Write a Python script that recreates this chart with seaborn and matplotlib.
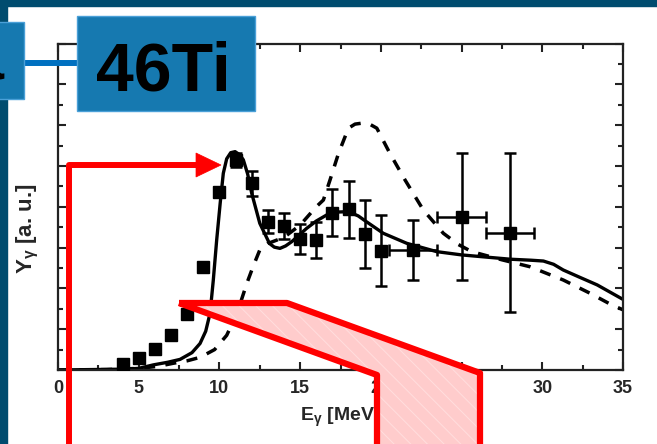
import matplotlib
matplotlib.use("Agg")
import matplotlib.pyplot as plt
import seaborn as sns
import numpy as np
from matplotlib.patches import Rectangle, Polygon
from matplotlib.lines import Line2D
from matplotlib.transforms import Affine2D

# ---------------- data ----------------
exp_e = [4, 5, 6, 7, 8, 9, 10, 11, 12, 13, 14, 15, 16, 17, 18, 19, 20, 22, 25, 28]
exp_y = [0.29, 0.57, 1.01, 1.71, 2.74, 5.06, 8.74, 10.3, 9.15, 7.27, 7.06, 6.42,
         6.37, 7.71, 7.88, 6.67, 5.85, 5.88, 7.51, 6.73]
exp_yerr = [0.12, 0.15, 0.15, 0.15, 0.15, 0.15, 0.25, 0.35, 0.62, 0.57, 0.65, 0.75,
            0.9, 1.14, 1.4, 1.67, 1.75, 1.47, 3.12, 3.9]
exp_xerr = [0, 0, 0, 0, 0, 0, 0, 0, 0, 0, 0, 0, 0, 0, 0, 0, 0, 1.5, 1.5, 1.5]

solid_e = [0, 2, 4, 5, 5.9, 6.8, 7.56, 8.3, 8.8, 9.15, 9.42, 9.62, 9.83, 10.05,
           10.24, 10.45, 10.7, 10.97, 11.25, 11.48, 11.75, 12.0, 12.5, 13.1, 13.4,
           13.75, 14.1, 14.48, 15.4, 16.0, 16.65, 17.3, 18.0, 18.6, 19.1, 20.15,
           21.6, 23.46, 25.0, 28.0, 29.3, 30.07, 30.7, 31.3, 32.3, 33.4, 35]
solid_y = [0.0, 0.02, 0.04, 0.08, 0.25, 0.38, 0.52, 0.85, 1.3, 1.9, 2.78, 4.4, 6.37,
           8.2, 9.64, 10.35, 10.65, 10.7, 10.55, 10.3, 9.6, 8.66, 7.19, 6.2, 6.02,
           5.96, 6.08, 6.29, 6.94, 7.3, 7.6, 7.74, 7.76, 7.55, 7.27, 6.7, 6.21,
           5.8, 5.64, 5.43, 5.38, 5.34, 5.18, 4.9, 4.55, 4.17, 3.46]

dashed_e = [0, 3, 5, 6.2, 7.14, 8.0, 8.8, 9.7, 10.45, 11.1, 11.7, 12.1, 12.5, 13.0,
            14.0, 15.0, 16.0, 16.44, 16.85, 17.37, 17.99, 18.4, 18.87, 19.3, 19.75,
            20.57, 21.5, 22.63, 23.87, 24.8, 25.63, 27.5, 29.24, 31.3, 32.96,
            34.3, 35]
dashed_y = [0.0, 0.02, 0.08, 0.18, 0.33, 0.45, 0.62, 1.0, 1.7, 2.8, 4.25, 5.1, 5.88,
            6.2, 6.5, 7.1, 8.0, 8.33, 9.31, 10.6, 11.85, 12.05, 12.1, 12.05, 11.85,
            10.6, 9.31, 7.84, 6.7, 6.15, 5.8, 5.4, 5.06, 4.41, 3.76, 3.19, 2.95]

xtick_vals = [0, 5, 10, 15, 20, 25, 30, 35]
xtick_labels = ["0", "5", "10", "15", "20", "25", "30", "35"]
box_label = "46Ti"
side_label = "Ca"
xlabel = "E$_\\mathregular{γ}$ [MeV]"
ylabel = "Y$_\\mathregular{γ}$ [a. u.]"

# ---------------- style ----------------
sns.set_theme(style="ticks")
plt.rcParams["font.family"] = ["Liberation Sans", "DejaVu Sans"]
plt.rcParams["hatch.linewidth"] = 0.7

W, H = 657, 444
fig = plt.figure(figsize=(W / 100, H / 100), dpi=100, facecolor="white")
ax = fig.add_axes([58 / W, 1 - 370 / H, (623 - 58) / W, (370 - 43.5) / H])
ax.set_facecolor("white")

sns.lineplot(x=solid_e, y=solid_y, ax=ax, color="black", linewidth=2.4,
             estimator=None, sort=False)
sns.lineplot(x=dashed_e, y=dashed_y, ax=ax, color="black", linewidth=2.5,
             estimator=None, sort=False, linestyle=(0, (3.2, 3.0)))
ax.errorbar(exp_e, exp_y, yerr=exp_yerr, xerr=exp_xerr, fmt="s", color="black",
            markersize=8, capsize=4, elinewidth=1.8, capthick=1.8, zorder=3)

ax.set_xlim(0, 35)
ax.set_ylim(0, 16)
ax.set_xticks(xtick_vals, xtick_labels, fontsize=13, fontweight="bold")
ax.set_xticks(np.arange(2.5, 35, 5), minor=True)
ax.set_yticks(np.arange(0, 17, 2))
ax.set_yticks(np.arange(1, 16, 2), minor=True)
ax.set_yticklabels([])
ax.tick_params(which="both", direction="in", top=True, right=True, width=1.5,
               color="#222222", pad=7)
ax.tick_params(which="major", length=6)
ax.tick_params(which="minor", length=3.5)
for s in ax.spines.values():
    s.set_linewidth(1.6)
    s.set_color("#222222")
ax.set_xlabel(xlabel, fontsize=14, fontweight="bold", labelpad=6)
ax.set_ylabel("")
fig.text(28 / W, 1 - 229 / H, ylabel, rotation=90, ha="center", va="center",
         fontsize=16, fontweight="bold")

# ---------------- slide overlays (pixel coords, y down) ----------------
px = Affine2D().scale(1 / W, -1 / H).translate(0, 1) + fig.transFigure

dark = "#004c6f"
fig.add_artist(Rectangle((0, 0), W, 6, transform=px, color=dark, zorder=1))
fig.add_artist(Rectangle((0, 0), 7, H, transform=px, color=dark, zorder=1))

boxc = "#1679b0"
fig.add_artist(Line2D([24, 80], [63, 63], transform=px, color="#0070c0",
                      linewidth=4.3, zorder=5))
fig.add_artist(Rectangle((-5, 22), 29, 77, transform=px, facecolor=boxc,
                         edgecolor="#4aa0d8", linewidth=1, zorder=6))
fig.text(4 / W, 1 - 80 / H, side_label, ha="right", va="baseline", fontsize=49,
         fontweight="bold", color="black", zorder=7)
fig.add_artist(Rectangle((77, 16), 178, 95, transform=px, facecolor=boxc,
                         edgecolor="#4aa0d8", linewidth=1, zorder=6))
fig.text(163 / W, 1 - 90 / H, box_label, ha="center", va="baseline", fontsize=49,
         fontweight="bold", color="black", zorder=7)

red = "#ff0000"
# bent arrow
fig.add_artist(Line2D([69, 69, 200], [460, 165, 165], transform=px, color=red,
                      linewidth=4.3, solid_joinstyle="round", zorder=8))
fig.add_artist(Polygon([(196, 153), (221, 165), (196, 177)], closed=True,
                       transform=px, facecolor=red, edgecolor=red, linewidth=0.5,
                       zorder=8))
# pink band shape
shape = [(179, 303), (287, 303), (480, 373), (480, 460), (377, 460), (377, 375)]
fig.add_artist(Polygon(shape, closed=True, transform=px, facecolor="#ffcccc",
                       edgecolor="none", zorder=8))
fig.add_artist(Polygon(shape, closed=True, transform=px, facecolor="none",
                       edgecolor="#ffffff", hatch="\\\\", linewidth=0, alpha=0.35,
                       zorder=8))
fig.add_artist(Polygon(shape, closed=True, transform=px, facecolor="none",
                       edgecolor=red, linewidth=4.5, joinstyle="round", zorder=9))

fig.savefig("out.png", dpi=100, facecolor="white")
